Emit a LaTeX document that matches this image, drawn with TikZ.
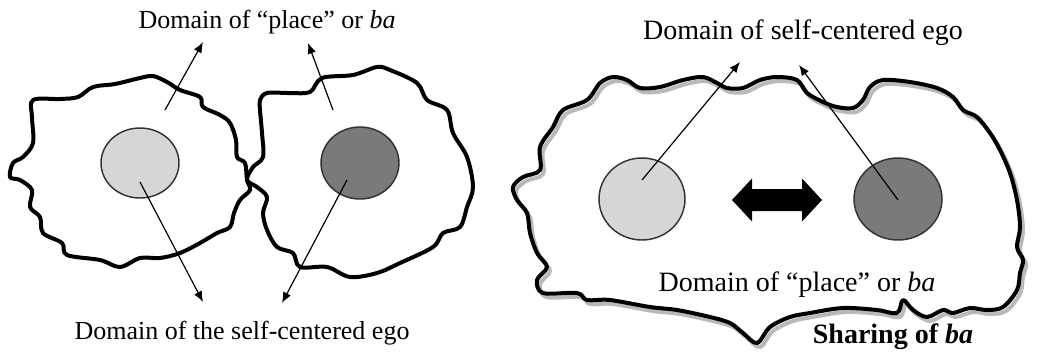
\documentclass[tikz,border=0pt]{standalone}
\usepackage{fontspec}
\setmainfont{Liberation Serif}
\usetikzlibrary{arrows.meta,shapes.geometric}
\definecolor{lightego}{HTML}{D6D6D6}
\definecolor{darkego}{HTML}{7A7A7A}
\definecolor{shadowgray}{HTML}{A8A8A8}
\tikzset{
  blob/.style={line width=3pt, line join=round, black},
  blobshadow/.style={line width=3pt, line join=round, shadowgray, opacity=0.8},
  ego/.style={ellipse, draw=black!80, line width=1.1pt, inner sep=0pt},
  egolight/.style={ego, fill=lightego},
  egodark/.style={ego, fill=darkego},
  pointer/.style={line width=0.9pt, -{Latex[length=8pt,width=6.5pt]}},
  lbl/.style={font=\fontsize{19.5}{23}\selectfont, inner sep=0pt},
  lblbig/.style={font=\fontsize{21}{25}\selectfont, inner sep=0pt},
}
\begin{document}
\begin{tikzpicture}[x=0.75pt, y=-0.75pt]
\useasboundingbox (0,0) rectangle (1048,351);
\fill[white] (0,0) rectangle (1048,351);

% left pair of blobs
\draw[blob] plot[smooth cycle, tension=0.55] coordinates {
 (33,100) (60,99) (78,97) (93,87) (115,84) (140,78) (153,76) (167,82) (180,90)
 (200,97) (203,107) (220,115) (230,123) (236,140) (237,157) (245,163) (247,180)
 (250,190) (240,200) (234,213) (230,227) (217,233) (200,243) (180,253) (160,258)
 (140,258) (120,267) (100,260) (67,255) (62,243) (43,233) (40,217) (30,207)
 (32,190) (20,180) (10,177) (13,163) (23,157) (33,143) (32,117)};
\draw[blob] plot[smooth cycle, tension=0.55] coordinates {
 (260,100) (267,93) (290,93) (310,92) (322,78) (353,75) (377,67) (390,70)
 (417,83) (427,100) (447,110) (453,133) (467,157) (473,187) (467,207)
 (460,227) (443,233) (433,247) (400,263) (377,273) (350,277) (327,267)
 (300,267) (293,253) (277,247) (267,230) (263,213) (267,197) (257,187)
 (247,180) (253,167) (263,157) (262,133) (260,110)};

\node[egolight, minimum width=58.5pt, minimum height=52.5pt] (e1) at (140,163) {};
\node[egodark, minimum width=58.5pt, minimum height=54pt] (e2) at (360,163) {};

\node[lbl] (top1) at (267,22) {Domain of “place” or \textit{ba}};
\node[lbl] (bot1) at (242,333) {Domain of the self-centered ego};

\coordinate (p1s) at (165,110); \coordinate (p1e) at (203,42);
\coordinate (p2s) at (333,110); \coordinate (p2e) at (308,43);
\coordinate (p3s) at (140,182); \coordinate (p3e) at (203,302);
\coordinate (p4s) at (347,180); \coordinate (p4e) at (282,303);
\draw[pointer] (p1s) -- (p1e);
\draw[pointer] (p2s) -- (p2e);
\draw[pointer] (p3s) -- (p3e);
\draw[pointer] (p4s) -- (p4e);

% right: shared ba
\def\bigblob{plot[smooth cycle, tension=0.55] coordinates {
 (553,127) (563,110) (587,100) (600,83) (613,77) (627,80) (640,88) (660,87)
 (683,80) (703,77) (717,83) (727,88) (743,88) (760,80) (777,77) (797,80)
 (807,93) (823,102) (837,107) (853,108) (863,100) (870,87) (883,80) (910,82)
 (937,88) (953,97) (963,110) (977,117) (990,133) (1000,150) (1010,173)
 (1017,200) (1020,227) (1017,247) (1023,260) (1020,273) (1017,290) (1003,307)
 (987,310) (970,308) (953,313) (943,310) (927,317) (913,310) (903,300)
 (897,313) (877,310) (843,308) (810,313) (790,317) (770,327) (757,343)
 (743,333) (730,323) (710,317) (677,310) (650,307) (610,300) (587,300)
 (577,293) (543,293) (537,280) (547,267) (537,253) (530,233) (527,213)
 (517,200) (513,187) (523,177) (540,170) (540,147)}}
\begin{scope}[shift={(3,4)}]
\draw[blobshadow] \bigblob;
\end{scope}
\draw[blob] \bigblob;

\node[egolight, minimum width=64.5pt, minimum height=61.5pt] (e3) at (642,199) {};
\node[egodark, minimum width=66pt, minimum height=61.5pt] (e4) at (898,199) {};

\fill[black] (732,200) -- (752,178.5) -- (752,189) -- (802,189) -- (802,178.5)
  -- (822,200) -- (802,221.5) -- (802,211) -- (752,211) -- (752,221.5) -- cycle;

\node[lblbig] (top2) at (803,33) {Domain of self-centered ego};
\node[lblbig] (bot2) at (797,285) {Domain of “place” or \textit{ba}};
\node[lblbig, font=\fontsize{21}{25}\selectfont\bfseries] (share) at (893,337) {Sharing of \textit{ba}};

\coordinate (p5s) at (642,180); \coordinate (p5e) at (740,62);
\coordinate (p6s) at (898,200); \coordinate (p6e) at (799,65);
\draw[pointer] (p5s) -- (p5e);
\draw[pointer] (p6s) -- (p6e);
\end{tikzpicture}
\end{document}
